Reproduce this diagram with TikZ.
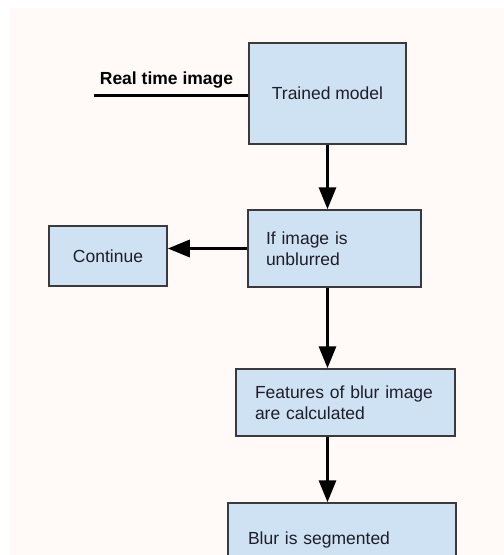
\documentclass[tikz,border=0pt]{standalone}
\usepackage{fontspec}
\setmainfont{Liberation Sans}
\usetikzlibrary{arrows.meta}
\definecolor{boxfill}{HTML}{CFE2F3}
\definecolor{boxline}{HTML}{3A3A3A}
\definecolor{paper}{HTML}{FFFAF7}
\definecolor{ink}{HTML}{1E1E28}

\begin{document}
\begin{tikzpicture}[x=1pt, y=-1pt,
    block/.style={rectangle, draw=boxline, fill=boxfill, line width=1.5pt, text=ink, font=\fontsize{17.5}{20.5}\selectfont},
    flow/.style={line width=3.2pt, -{Triangle[length=22pt, width=17pt]}}]
    % paper
    \clip (0,0) rectangle (504,555);
    \fill[paper] (10,8) rectangle (504,555);
    % step nodes
    \node[block, minimum width=157pt, minimum height=101pt] (trained) at (327.5,93.5) {Trained model};
    \node[block, align=left, inner xsep=18pt, text width=137pt, minimum height=77pt] (ifblur) at (334.5,248.5) {If image is\\unblurred};
    \node[block, minimum width=118pt, minimum height=60pt] (cont) at (108,256) {Continue};
    \node[block, align=left, inner xsep=19pt, text width=181pt, minimum height=67pt] (feat) at (345.5,402.5) {Features of blur image\\are calculated};
    \node[block, align=left, inner xsep=20pt, text width=188pt, minimum height=74pt] (seg) at (342,540) {Blur is segmented};
    % input
    \node[font=\bfseries\fontsize{17.5}{20}\selectfont] (rtlabel) at (166.5,80) {Real time image};
    \coordinate (rtin) at (94,95);
    \draw[line width=3pt] (rtin) -- (rtin -| trained.west);
    % flow arrows
    \draw[flow] (trained.south) -- (trained.south |- ifblur.north);
    \draw[flow] (ifblur.west) -- (ifblur.west -| cont.east);
    \draw[flow] (ifblur.south -| trained.south) -- (feat.north -| trained.south);
    \draw[flow] (feat.south -| trained.south) -- (seg.north -| trained.south);
\end{tikzpicture}
\end{document}
